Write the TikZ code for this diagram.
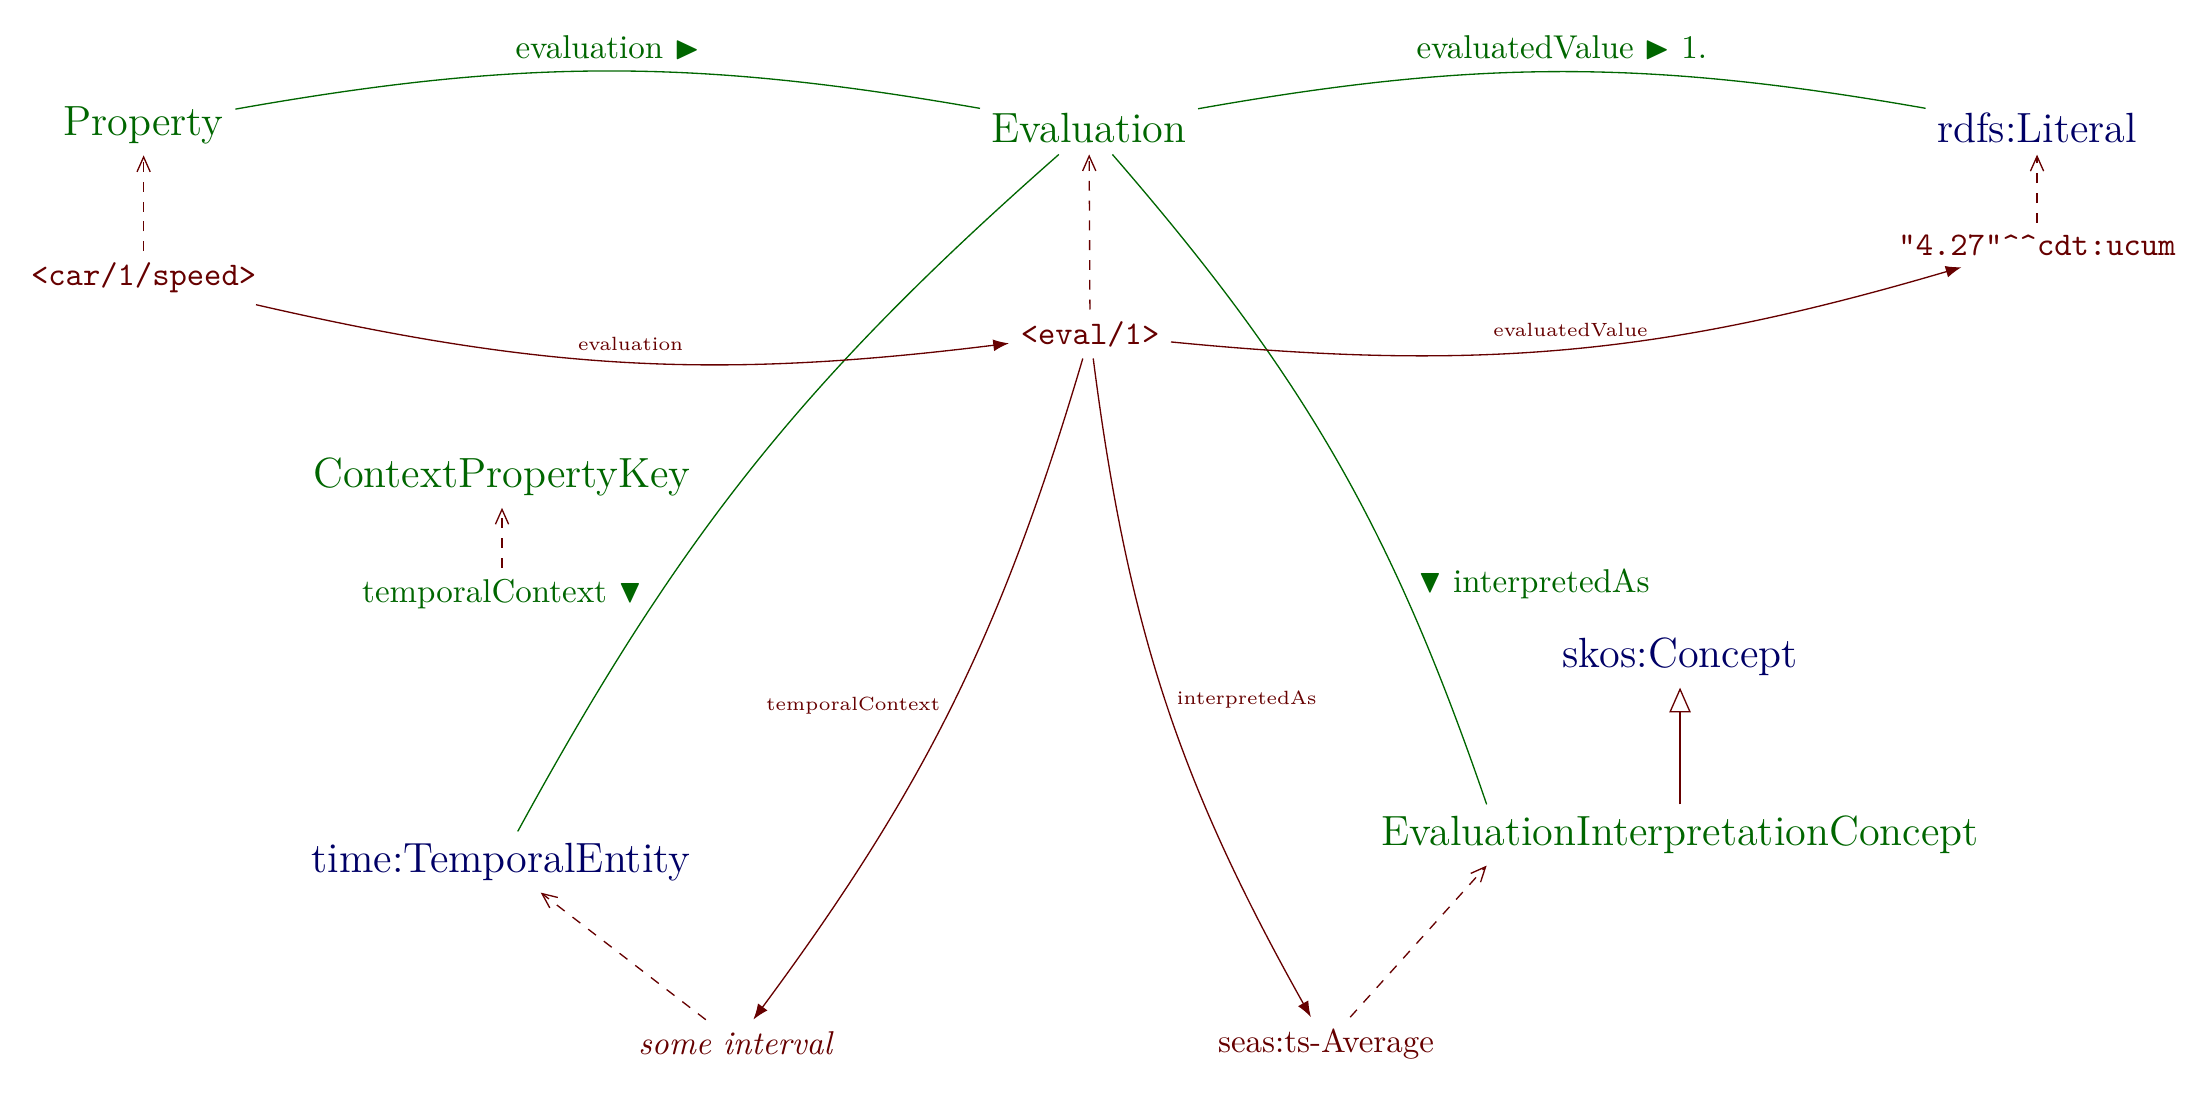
\documentclass[tikz,border=0pt]{standalone}
\usepackage{amssymb}
\usetikzlibrary{arrows.meta}
\definecolor{clsgreen}{rgb}{0,0.4,0}
\definecolor{instred}{rgb}{0.4,0,0}
\definecolor{extblue}{rgb}{0,0,0.4}

\begin{document}
\begin{tikzpicture}[
        cls/.style={text=clsgreen, font=\fontsize{12.8pt}{15pt}\selectfont},
        ext/.style={text=extblue, font=\fontsize{12.8pt}{15pt}\selectfont},
        inst/.style={text=instred, font=\ttfamily},
        lit/.style={text=instred},
        propkey/.style={text=clsgreen},
        propline/.style={draw=clsgreen},
        rel/.style={draw=instred, -{Latex}},
        reltext/.style={text=instred, font=\fontsize{5.8pt}{7pt}\selectfont},
        typeof/.style={draw=instred, dashed, -{Straight Barb[length=4.5pt,width=4pt]}},
        subcls/.style={draw=instred, -{Triangle[open,length=7.5pt,width=6.5pt]}}
    ]
        \useasboundingbox (0,0) rectangle (23.5,11.633);

        % Classes
        \node[cls] (property) at (1.53,10.301) {Property};
        \node[cls] (evaluation) at (11.601,10.270) {Evaluation};
        \node[ext] (rdfslit) at (21.70,10.270) {rdfs:Literal};
        \node[cls] (ctxkey) at (5.348,6.552) {ContextPropertyKey};
        \node[ext] (timeent) at (5.337,2.450) {time:TemporalEntity};
        \node[ext] (skos) at (17.897,4.634) {skos:Concept};
        \node[cls] (eic) at (17.897,2.738) {EvaluationInterpretationConcept};

        % Property keys
        \node[propkey] (tckey) at (5.348,5.305) {temporalContext $\blacktriangledown$};
        \node[propkey] (iakey) at (16.342,5.412) {$\blacktriangledown$ interpretedAs};

        % Instances
        \node[inst] (car) at (1.53,8.672) {<car/1/speed>};
        \node[inst] (evalone) at (11.612,8.075) {<eval/1>};
        \node[inst] (literal) at (21.70,9.023) {"4.27"\textasciicircum\textasciicircum cdt:ucum};
        \node[lit] (interval) at (7.841,0.522) {\textit{some interval}};
        \node[lit] (tsavg) at (14.126,0.511) {seas:ts-Average};

        % Schema lines
        \draw[propline] (property) to[bend left=10] node[midway,above,propkey] {evaluation $\blacktriangleright$} (evaluation);
        \draw[propline] (evaluation) to[bend left=10] node[midway,above,propkey] {evaluatedValue $\blacktriangleright$ 1.} (rdfslit);
        \draw[propline] (evaluation) to[bend right=10] (timeent);
        \draw[propline] (evaluation) to[bend left=11] (eic.171);

        % Instance relations
        \draw[rel] (car) to[bend right=10] node[midway,above,reltext] {evaluation} (evalone);
        \draw[rel] (evalone) to[bend right=11] node[midway,above,reltext] {evaluatedValue} (literal);
        \draw[rel] (evalone) to[bend left=10] node[midway,left,reltext] {temporalContext} (interval);
        \draw[rel] (evalone) to[bend right=11] node[midway,right,reltext] {interpretedAs} (tsavg);

        % Types
        \draw[typeof] (car) -- (property);
        \draw[typeof] (evalone) -- (evaluation);
        \draw[typeof] (literal) -- (rdfslit);
        \draw[typeof] (tckey) -- (ctxkey);
        \draw[typeof] (interval) -- (timeent);
        \draw[typeof] (tsavg) -- (eic.189);

        % Subclass
        \draw[subcls] (eic) -- (skos);
    \end{tikzpicture}
\end{document}
